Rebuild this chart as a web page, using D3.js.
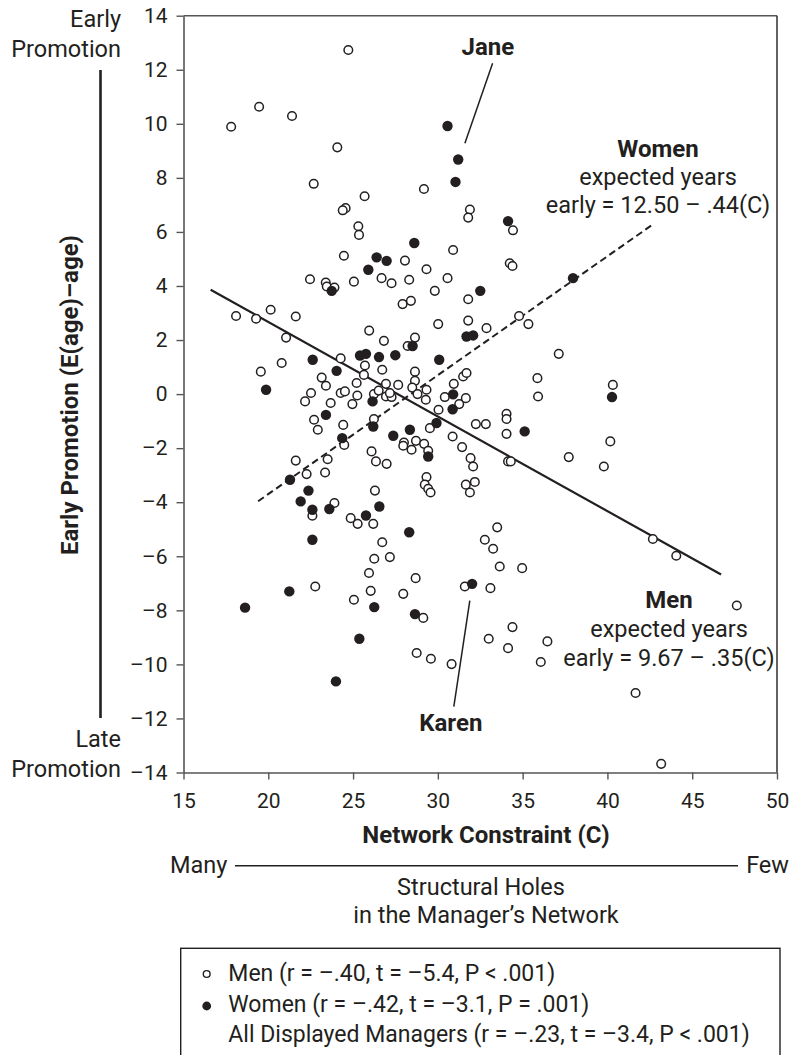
<!DOCTYPE html>
<html>
<head>
<meta charset="utf-8">
<script src="https://cdn.jsdelivr.net/npm/d3@7"></script>
<style>
  html, body { margin: 0; padding: 0; background: #fff; }
  svg { display: block; font-family: Roboto, "Open Sans", sans-serif; }
</style>
</head>
<body>
<svg id="chart" width="789" height="1055"></svg>
<script>
// Men: network constraint (C) and years of early promotion
const menConstraint = [
  24.72, 19.46, 21.40, 17.81, 24.07, 22.68, 25.68, 29.18, 24.56, 24.39,
  31.89, 31.79, 25.31, 25.35, 30.90, 34.43, 24.46, 28.06, 29.33, 22.46,
  23.39, 23.45, 23.90, 25.05, 26.68, 27.27, 28.31, 30.57, 29.82, 27.92,
  28.41, 31.79, 20.14, 18.10, 19.28, 21.62, 31.79, 30.02, 21.05, 25.95,
  26.82, 28.65, 28.22, 24.27, 25.70, 20.79, 19.56, 26.72, 28.65, 25.64,
  23.15, 23.40, 25.21, 26.94, 27.66, 28.65, 28.49, 29.33, 30.94, 31.49,
  31.69, 22.52, 22.17, 24.27, 24.52, 25.25, 24.96, 23.68, 26.23, 26.51,
  26.94, 27.27, 27.17, 28.80, 29.29, 30.04, 30.41, 31.26, 31.65, 22.70,
  22.92, 24.42, 26.23, 29.53, 32.24, 24.48, 28.00, 27.96, 28.45, 28.71,
  29.19, 29.43, 30.87, 31.43, 26.09, 26.35, 26.98, 31.93, 32.08, 21.62,
  23.50, 23.35, 22.26, 29.33, 29.23, 29.43, 29.57, 31.65, 31.89, 32.18,
  34.24, 34.40, 34.79, 35.34, 32.87, 37.13, 35.87, 35.91, 40.32, 34.05,
  34.05, 32.83, 34.05, 40.17, 34.14, 34.30, 37.72, 39.79, 22.60, 23.90,
  26.29, 24.86, 25.27, 26.19, 26.72, 26.25, 27.17, 25.94, 28.69, 22.77,
  26.04, 27.96, 25.05, 29.14, 31.59, 28.75, 29.59, 30.81, 33.50, 32.77,
  33.26, 33.65, 34.97, 33.10, 42.68, 44.06, 47.63, 34.40, 33.00, 34.14,
  36.46, 36.07, 41.66, 43.17
];
const menPromotion = [
  12.73, 10.63, 10.29, 9.89, 9.13, 7.78, 7.32, 7.59, 6.88, 6.80,
  6.83, 6.53, 6.21, 5.89, 5.33, 6.06, 5.12, 4.94, 4.62, 4.25,
  4.13, 3.98, 3.94, 4.16, 4.29, 4.10, 4.23, 4.29, 3.82, 3.33,
  3.45, 3.51, 3.12, 2.89, 2.79, 2.87, 2.72, 2.59, 2.09, 2.35,
  1.97, 2.09, 1.78, 1.32, 1.06, 1.15, 0.83, 0.90, 0.83, 0.71,
  0.61, 0.31, 0.41, 0.38, 0.34, 0.49, 0.24, 0.16, 0.38, 0.65,
  0.78, 0.04, -0.27, 0.04, 0.10, -0.05, -0.37, -0.33, 0.00, 0.13,
  -0.09, -0.11, 0.04, 0.00, -0.21, -0.58, -0.11, -0.37, -0.15, -0.95,
  -1.32, -1.14, -0.92, -1.26, -1.11, -1.88, -1.79, -1.91, -2.06, -1.73,
  -1.84, -2.10, -1.57, -1.96, -2.12, -2.49, -2.58, -2.37, -2.68, -2.46,
  -2.41, -2.90, -2.96, -3.07, -3.35, -3.50, -3.64, -3.35, -3.64, -3.25,
  4.84, 4.74, 2.89, 2.59, 2.44, 1.49, 0.59, -0.09, 0.34, -0.73,
  -0.92, -1.11, -1.47, -1.75, -2.49, -2.49, -2.33, -2.68, -4.50, -4.03,
  -3.57, -4.59, -4.80, -4.80, -5.48, -6.09, -6.03, -6.62, -6.81, -7.12,
  -7.28, -7.39, -7.61, -8.28, -7.12, -9.58, -9.79, -9.99, -4.93, -5.39,
  -5.72, -6.38, -6.44, -7.18, -5.36, -5.98, -7.82, -8.62, -9.05, -9.40,
  -9.15, -9.91, -11.06, -13.68
];

// Women: network constraint (C) and years of early promotion
const womenConstraint = [
  30.57, 31.20, 31.04, 28.61, 34.14, 26.39, 26.98, 25.90, 23.74, 32.50,
  28.51, 31.69, 32.08, 25.41, 25.76, 26.53, 27.49, 22.62, 30.08, 24.03,
  19.87, 26.15, 30.90, 30.87, 23.40, 26.19, 28.35, 29.92, 24.36, 27.37,
  29.43, 21.28, 22.37, 37.97, 40.27, 35.12, 21.91, 22.60, 23.60, 26.55,
  25.76, 22.60, 28.31, 21.24, 26.25, 18.63, 28.65, 32.02, 25.37, 23.99
];
const womenPromotion = [
  9.92, 8.68, 7.85, 5.59, 6.40, 5.06, 4.93, 4.60, 3.82, 3.82,
  1.78, 2.13, 2.17, 1.43, 1.49, 1.37, 1.44, 1.27, 1.27, 0.86,
  0.16, -0.27, -0.01, -0.56, -0.77, -1.20, -1.32, -1.07, -1.63, -1.54,
  -2.31, -3.17, -3.57, 4.29, -0.11, -1.38, -3.97, -4.28, -4.25, -4.16,
  -4.49, -5.39, -5.11, -7.30, -7.88, -7.90, -8.14, -7.02, -9.05, -10.63
];

// Regression lines: [intercept, slope] and the span of C they cover
const menFit = [9.67, -0.35];
const menFitRange = [16.6, 46.7];
const womenFit = [-12.50, 0.44];
const womenFitRange = [19.4, 42.7];

// Named managers: [name, index into the women arrays]
const namedManagers = [["Jane", 1], ["Karen", 47]];

// Axis ticks
const xTicks = [15, 20, 25, 30, 35, 40, 45, 50];
const yTicks = [14, 12, 10, 8, 6, 4, 2, 0, -2, -4, -6, -8, -10, -12, -14];

const legendLines = [
  "Men (r = –.40, t = –5.4, P < .001)",
  "Women (r = –.42, t = –3.1, P = .001)",
  "All Displayed Managers (r = –.23, t = –3.4, P < .001)"
];

const ink = "#231f20";
const axisGrey = "#555";
const fsText = 23.5, fsBold = 24, fsTick = 21;
const svg = d3.select("#chart");

const x = d3.scaleLinear().domain([15, 50]).range([183.5, 777]);
const y = d3.scaleLinear().domain([-14, 14]).range([772.5, 15.7]);
const dashFmt = d => d < 0 ? "–" + Math.abs(d) : String(d);

// Frame: top and right edges
svg.append("line").attr("x1", x(15)).attr("x2", x(50)).attr("y1", y(14)).attr("y2", y(14))
  .attr("stroke", axisGrey).attr("stroke-width", 1.6);
svg.append("line").attr("x1", x(50)).attr("x2", x(50)).attr("y1", y(14)).attr("y2", y(-14))
  .attr("stroke", ink).attr("stroke-width", 1.4);

// Axes
const yAxis = svg.append("g").attr("transform", `translate(${x(15)},0)`)
  .call(d3.axisLeft(y).tickValues(yTicks).tickSize(7).tickSizeOuter(0).tickPadding(9).tickFormat(dashFmt));
const xAxis = svg.append("g").attr("transform", `translate(0,${y(-14)})`)
  .call(d3.axisBottom(x).tickValues(xTicks).tickSize(7).tickSizeOuter(0).tickPadding(14).tickFormat(dashFmt));
[yAxis, xAxis].forEach(g => {
  g.select(".domain").attr("stroke", axisGrey).attr("stroke-width", 1.6);
  g.selectAll(".tick line").attr("stroke", axisGrey).attr("stroke-width", 1.4);
  g.selectAll(".tick text").attr("fill", ink).style("font-size", fsTick + "px").style("font-family", "Roboto, sans-serif");
});

// Regression lines
const fitLine = (fit, range) => range.map(c => [x(c), y(fit[0] + fit[1] * c)]);
svg.append("path").attr("d", d3.line()(fitLine(menFit, menFitRange)))
  .attr("stroke", ink).attr("stroke-width", 2.2).attr("fill", "none");
svg.append("path").attr("d", d3.line()(fitLine(womenFit, womenFitRange)))
  .attr("stroke", ink).attr("stroke-width", 2).attr("stroke-dasharray", "7,4").attr("fill", "none");

// Points
svg.append("g").selectAll("circle").data(d3.zip(menConstraint, menPromotion)).join("circle")
  .attr("cx", d => x(d[0])).attr("cy", d => y(d[1])).attr("r", 4.3)
  .attr("fill", "#fff").attr("stroke", ink).attr("stroke-width", 1.5);
svg.append("g").selectAll("circle").data(d3.zip(womenConstraint, womenPromotion)).join("circle")
  .attr("cx", d => x(d[0])).attr("cy", d => y(d[1])).attr("r", 5.2)
  .attr("fill", ink);

// Named managers with leader lines
const callouts = {
  Jane:  { line: [[6.7, -16.3], [34.4, -96.3]], text: [29.7, -104] },
  Karen: { line: [[-2.3, 16.7], [-18.3, 122.7]], text: [-21.3, 147] }
};
namedManagers.forEach(([name, i]) => {
  const px = x(womenConstraint[i]), py = y(womenPromotion[i]);
  const c = callouts[name];
  svg.append("line")
    .attr("x1", px + c.line[0][0]).attr("y1", py + c.line[0][1])
    .attr("x2", px + c.line[1][0]).attr("y2", py + c.line[1][1])
    .attr("stroke", ink).attr("stroke-width", 1.5);
  svg.append("text").attr("x", px + c.text[0]).attr("y", py + c.text[1])
    .attr("text-anchor", "middle").attr("font-weight", "bold").attr("font-size", fsBold)
    .attr("fill", ink).text(name);
});

// Equation labels
function equation(cx, baselines, title, formula) {
  const g = svg.append("g").attr("fill", ink).attr("text-anchor", "middle").attr("font-size", fsText);
  g.append("text").attr("x", cx).attr("y", baselines[0]).attr("font-weight", "bold").attr("font-size", fsBold).text(title);
  g.append("text").attr("x", cx).attr("y", baselines[1]).text("expected years");
  g.append("text").attr("x", cx).attr("y", baselines[2]).text(formula);
}
equation(658, [157, 185, 213], "Women", "early = 12.50 – .44(C)");
equation(669, [608, 637, 666], "Men", "early = 9.67 – .35(C)");

// Y axis side labels
const side = svg.append("g").attr("fill", ink).attr("font-size", fsText).attr("text-anchor", "end");
side.append("text").attr("x", 121).attr("y", 26.5).text("Early");
side.append("text").attr("x", 121).attr("y", 56.5).text("Promotion");
side.append("text").attr("x", 121).attr("y", 746.5).text("Late");
side.append("text").attr("x", 121).attr("y", 776.5).text("Promotion");
svg.append("line").attr("x1", 100.5).attr("x2", 100.5).attr("y1", 70).attr("y2", 718)
  .attr("stroke", ink).attr("stroke-width", 2.6);
svg.append("text").attr("transform", "translate(78,395) rotate(-90)")
  .attr("text-anchor", "middle").attr("font-weight", "bold").attr("font-size", fsBold).attr("fill", ink)
  .text("Early Promotion (E(age)–age)");

// X axis title and structural-holes scale
svg.append("text").attr("x", 486).attr("y", 843).attr("text-anchor", "middle")
  .attr("font-weight", "bold").attr("font-size", fsBold).attr("fill", ink).text("Network Constraint (C)");
svg.append("text").attr("x", 170).attr("y", 873).attr("font-size", fsText).attr("fill", ink).text("Many");
svg.append("text").attr("x", 789).attr("y", 873).attr("text-anchor", "end").attr("font-size", fsText).attr("fill", ink).text("Few");
svg.append("line").attr("x1", 235).attr("x2", 738).attr("y1", 865.7).attr("y2", 865.7)
  .attr("stroke", ink).attr("stroke-width", 1.6);
svg.append("text").attr("x", 481).attr("y", 895).attr("text-anchor", "middle").attr("font-size", fsText).attr("fill", ink).text("Structural Holes");
svg.append("text").attr("x", 486).attr("y", 923).attr("text-anchor", "middle").attr("font-size", fsText).attr("fill", ink).text("in the Manager’s Network");

// Legend
svg.append("rect").attr("x", 180.7).attr("y", 948.3).attr("width", 599.3).attr("height", 140)
  .attr("fill", "none").attr("stroke", ink).attr("stroke-width", 1.4);
const legendY = [981, 1012, 1042];
svg.append("circle").attr("cx", 206.7).attr("cy", legendY[0] - 7).attr("r", 3.4)
  .attr("fill", "#fff").attr("stroke", ink).attr("stroke-width", 1.4);
svg.append("circle").attr("cx", 206.7).attr("cy", legendY[1] - 6).attr("r", 4.4).attr("fill", ink);
svg.append("g").attr("fill", ink).attr("font-size", 23)
  .selectAll("text").data(legendLines).join("text")
  .attr("x", 228.3).attr("y", (d, i) => legendY[i]).text(d => d);
</script>
</body>
</html>
